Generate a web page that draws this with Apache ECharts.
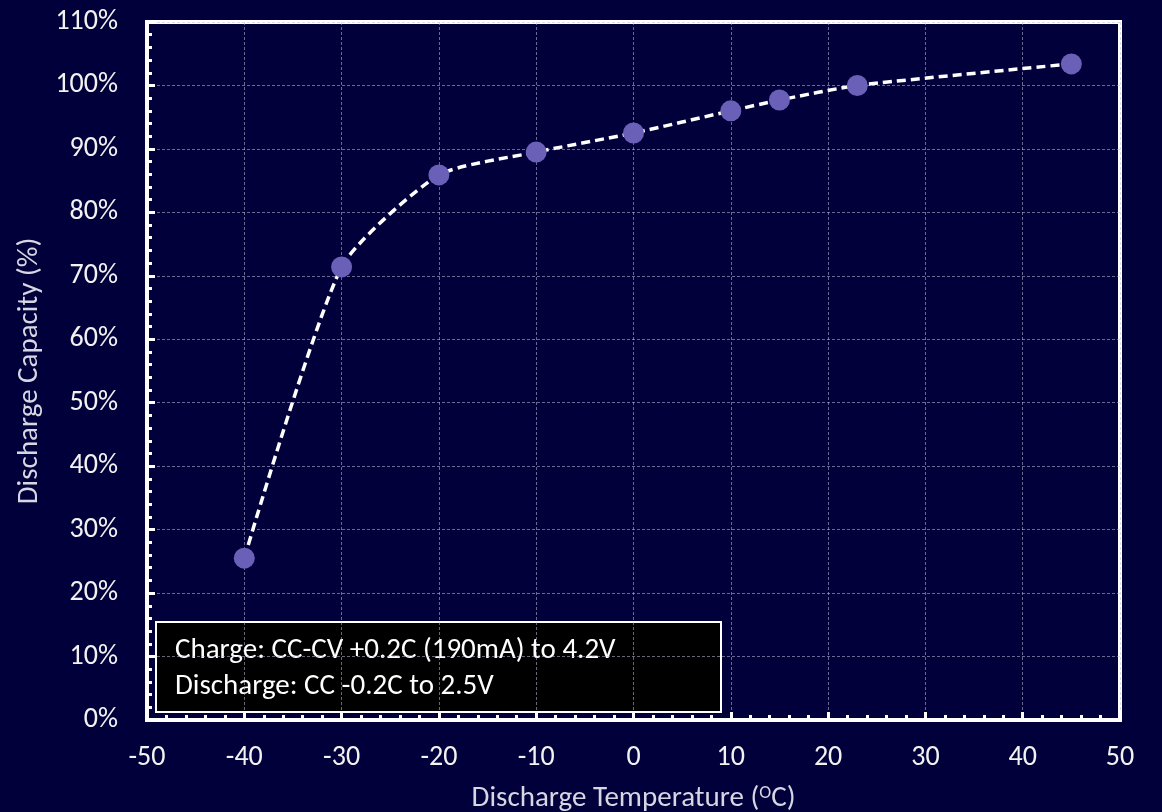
<!DOCTYPE html>
<html>
<head>
<meta charset="utf-8">
<title>Discharge Capacity vs Temperature</title>
<script src="https://cdn.jsdelivr.net/npm/echarts@6/dist/echarts.min.js"></script>
<style>
  html, body { margin: 0; padding: 0; background: #02003a; }
  #chart { width: 1162px; height: 812px; }
</style>
</head>
<body>
<div id="chart"></div>
<script>
// Discharge temperature (°C) and the capacity retained at each (%)
const temperatures = [-40, -30, -20, -10, 0, 10, 15, 23, 45];
const capacities = [25.5, 71.4, 85.9, 89.5, 92.5, 96.0, 97.7, 100.0, 103.4];

const xTicks = { min: -50, max: 50, interval: 10 };
const yTicks = { min: 0, max: 110, interval: 10 };

const noteLines = [
  'Charge: CC-CV +0.2C (190mA) to 4.2V',
  'Discharge: CC -0.2C to 2.5V'
];

const FONT = 'Carlito, Calibri, Lato, sans-serif';

const chart = echarts.init(document.getElementById('chart'));

const points = temperatures.map((t, i) => [t, capacities[i]]);

chart.setOption({
  backgroundColor: '#02003a',
  animation: false,
  grid: {
    left: 147, right: 42, top: 22, bottom: 92,
    outerBoundsMode: 'none',
    show: true,
    borderColor: '#ffffff',
    borderWidth: 4,
    backgroundColor: 'transparent'
  },
  xAxis: {
    type: 'value',
    min: xTicks.min, max: xTicks.max, interval: xTicks.interval,
    name: 'Discharge Temperature ({sup|O}C)',
    nameLocation: 'middle',
    nameGap: 64,
    nameTextStyle: {
      color: '#d6d6e4', fontSize: 29, fontFamily: FONT,
      rich: {
        sup: { fontSize: 18, color: '#d6d6e4', verticalAlign: 'top', padding: [0, 0, 12, 0], fontFamily: FONT }
      }
    },
    axisLine: { show: true, onZero: false, lineStyle: { color: '#ffffff', width: 4 } },
    axisTick: { show: true, inside: true, length: 8, lineStyle: { color: '#ffffff', width: 3 } },
    minorTick: { show: true, splitNumber: 5, length: 5, lineStyle: { color: '#ffffff', width: 3 } },
    axisLabel: { color: '#f2f2f2', fontSize: 28, fontFamily: FONT, margin: 24 },
    splitLine: { show: true, lineStyle: { color: 'rgba(190,190,215,0.55)', width: 1, type: [3, 2] } }
  },
  yAxis: {
    type: 'value',
    min: yTicks.min, max: yTicks.max, interval: yTicks.interval,
    name: 'Discharge Capacity (%)',
    nameLocation: 'middle',
    nameGap: 102,
    nameTextStyle: { color: '#d6d6e4', fontSize: 29, fontFamily: FONT },
    axisLine: { show: true, onZero: false, lineStyle: { color: '#ffffff', width: 4 } },
    axisTick: { show: true, inside: true, length: 8, lineStyle: { color: '#ffffff', width: 3 } },
    minorTick: { show: true, splitNumber: 5, length: 5, lineStyle: { color: '#ffffff', width: 3 } },
    axisLabel: { color: '#f2f2f2', fontSize: 28, fontFamily: FONT, margin: 29, formatter: '{value}%' },
    splitLine: { show: true, lineStyle: { color: 'rgba(190,190,215,0.55)', width: 1, type: [3, 2] } }
  },
  series: [{
    type: 'line',
    data: points,
    smooth: 0.2,
    symbol: 'circle',
    symbolSize: 21,
    itemStyle: { color: '#6b60b8' },
    lineStyle: { color: '#ffffff', width: 3.5, type: [9, 5] },
    z: 3
  }],
  graphic: [{
    type: 'group',
    left: 155,
    top: 621,
    z: 10,
    children: [
      {
        type: 'rect',
        shape: { x: 0, y: 0, width: 565, height: 90 },
        style: { fill: '#000000', stroke: '#ffffff', lineWidth: 2 }
      },
      {
        type: 'text',
        x: 19, y: 29,
        style: { text: noteLines[0], fill: '#ffffff', font: '29px ' + FONT, verticalAlign: 'middle' }
      },
      {
        type: 'text',
        x: 19, y: 65,
        style: { text: noteLines[1], fill: '#ffffff', font: '29px ' + FONT, verticalAlign: 'middle' }
      }
    ]
  }]
});
</script>
</body>
</html>
